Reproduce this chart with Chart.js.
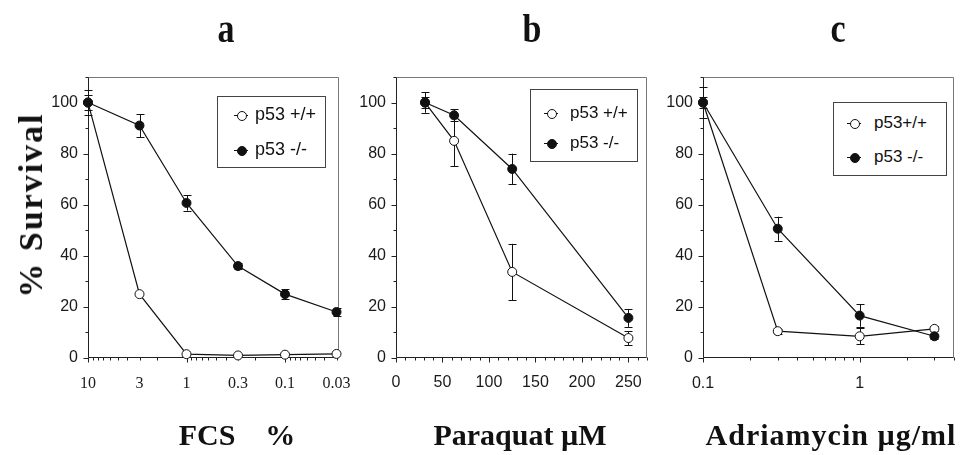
<!DOCTYPE html>
<html><head><meta charset="utf-8">
<script src="https://cdn.jsdelivr.net/npm/chart.js@4.4.1/dist/chart.umd.min.js"></script>
<style>
html,body{margin:0;padding:0;background:#fff;}
#wrap{position:relative;width:963px;height:455px;overflow:hidden;background:#fff;}
canvas.pane{position:absolute;left:0;top:0;}
.t{position:absolute;font-family:"Liberation Serif","Times New Roman",serif;font-weight:bold;color:#111;white-space:pre;line-height:1;}
.lg{position:absolute;border:1px solid #444;background:#fff;box-sizing:border-box;}
.row{position:absolute;left:0;font-family:"Liberation Sans",Arial,sans-serif;color:#111;line-height:1;white-space:pre;}
.ln{position:absolute;height:1px;background:#111;width:14px;}
.dot{position:absolute;width:8px;height:8px;border:1px solid #111;border-radius:50%;box-sizing:content-box;}
</style>
</head><body>
<div id="wrap">
<canvas id="ca" class="pane" width="963" height="455"></canvas>
<canvas id="cb" class="pane" width="963" height="455"></canvas>
<canvas id="cc" class="pane" width="963" height="455"></canvas>
</div>
<script>
// ---------- data ----------
const panelTitles = ['a', 'b', 'c'];
const xTitles = ['FCS    %', 'Paraquat \u00b5M', 'Adriamycin \u00b5g/ml'];
const yTitle = '% Survival';
const seriesNames = ['p53 +/+', 'p53 -/-'];
const seriesNamesC = ['p53+/+', 'p53 -/-'];
const yTicks = [0, 20, 40, 60, 80, 100];
const yMinorTicks = [10, 30, 50, 70, 90, 110];

// panel a: FCS %
const fcsDose = [10, 3, 1, 0.3, 0.1, 0.03];
const fcsWT = [100, 25, 1.5, 1, 1.3, 1.6];
const fcsWTErr = [5, 0, 0, 0, 0, 0];
const fcsKO = [100, 91, 60.7, 36, 25, 18];
const fcsKOErr = [3, 4.5, 3, 1.2, 2, 1.5];
const fcsTicks = [10, 3, 1, 0.3, 0.1, 0.03];
const fcsTickLabels = ['10', '3', '1', '0.3', '0.1', '0.03'];

// panel b: Paraquat uM
const pqDose = [31.25, 62.5, 125, 250];
const pqWT = [100, 85, 33.7, 7.8];
const pqWTErr = [4, 10, 11, 2.7];
const pqKO = [100, 95, 74, 15.7];
const pqKOErr = [2, 2.3, 6, 3.5];
const pqTicks = [0, 50, 100, 150, 200, 250];
const pqTickLabels = ['0', '50', '100', '150', '200', '250'];

// panel c: Adriamycin ug/ml
const adrDose = [0.1, 0.3, 1, 3];
const adrWT = [100, 10.5, 8.5, 11.4];
const adrWTErr = [6, 1, 3.2, 1];
const adrKO = [100, 50.6, 16.6, 8.5];
const adrKOErr = [2, 4.7, 4.4, 1];
const adrTicks = [0.1, 1];
const adrTickLabels = ['0.1', '1'];

// ---------- helpers ----------
function logMinor(lo, hi) {
  const out = [];
  for (let e = -3; e <= 2; e++) {
    for (let m = 1; m <= 9; m++) {
      const v = +(m * Math.pow(10, e)).toPrecision(6);
      if (v >= lo * 0.999 && v <= hi * 1.001) out.push({v, major: m === 1});
    }
  }
  return out;
}
function linMinor(lo, hi, step, majorStep) {
  const out = [];
  for (let v = lo; v <= hi + 1e-9; v += step) out.push({v, major: Math.abs(v / majorStep - Math.round(v / majorStep)) < 1e-6});
  return out;
}

const framePlugin = {
  id: 'frame',
  beforeDatasetsDraw(chart, args, opts) {
    const {ctx, chartArea, scales} = chart;
    const L = Math.round(chartArea.left) + 0.5, R = Math.round(chartArea.right) - 0.5;
    const T = Math.round(chartArea.top) + 0.5, B = Math.round(chartArea.bottom) - 0.5;
    ctx.save();
    ctx.lineWidth = 1;
    ctx.strokeStyle = '#777';
    ctx.beginPath();
    ctx.moveTo(L, T); ctx.lineTo(R, T); ctx.lineTo(R, B);
    ctx.stroke();
    ctx.strokeStyle = '#222';
    ctx.beginPath();
    ctx.moveTo(L, T); ctx.lineTo(L, B); ctx.lineTo(R, B);
    ctx.stroke();
    ctx.beginPath();
    yTicks.forEach(v => { const p = Math.round(scales.y.getPixelForValue(v)) + 0.5; ctx.moveTo(L, p); ctx.lineTo(L - 5, p); });
    yMinorTicks.forEach(v => { const p = Math.round(scales.y.getPixelForValue(v)) + 0.5; ctx.moveTo(L, p); ctx.lineTo(L - 3, p); });
    opts.xMarks.forEach(t => { const p = Math.round(scales.x.getPixelForValue(t.v)) + 0.5; ctx.moveTo(p, B); ctx.lineTo(p, B + (t.major ? 5 : 3)); });
    ctx.stroke();
    ctx.strokeStyle = '#111';
    ctx.beginPath();
    chart.data.datasets.forEach(ds => {
      ds.data.forEach((pt, i) => {
        const e = ds.errors[i];
        if (!e) return;
        const px = Math.round(scales.x.getPixelForValue(pt.x)) + 0.5;
        const y1 = scales.y.getPixelForValue(pt.y + e), y2 = scales.y.getPixelForValue(pt.y - e);
        ctx.moveTo(px, y1); ctx.lineTo(px, y2);
        ctx.moveTo(px - 4, Math.round(y1) + 0.5); ctx.lineTo(px + 4, Math.round(y1) + 0.5);
        ctx.moveTo(px - 4, Math.round(y2) + 0.5); ctx.lineTo(px + 4, Math.round(y2) + 0.5);
      });
    });
    ctx.stroke();
    ctx.restore();
  }
};

function ds(xs, ys, errs, filled, order, label) {
  return {
    label,
    data: xs.map((x, i) => ({x, y: ys[i]})),
    errors: errs,
    order,
    borderColor: '#111', borderWidth: 1.2,
    pointRadius: 4.5, pointBorderWidth: 1,
    pointBorderColor: '#111',
    pointBackgroundColor: filled ? '#111' : '#fff',
    fill: false, tension: 0, clip: false
  };
}

function makeChart(id, c) {
  return new Chart(document.getElementById(id), {
    type: 'line',
    data: {datasets: [
      ds(c.xs, c.ko, c.koErr, true, 0, seriesNames[1]),
      ds(c.xs, c.wt, c.wtErr, false, 1, seriesNames[0])
    ]},
    options: {
      responsive: false, animation: false, devicePixelRatio: 1,
      layout: {padding: {left: c.padL, right: c.padR, top: 77, bottom: 55}},
      plugins: {legend: {display: false}, tooltip: {enabled: false}, frame: {xMarks: c.xMarks}},
      scales: {
        x: {
          type: c.xType, reverse: !!c.reverse, min: c.xMin, max: c.xMax,
          afterBuildTicks: s => { s.ticks = c.xTicks.map(v => ({value: v})); },
          ticks: {autoSkip: false, maxRotation: 0, padding: c.xPad, color: '#1a1a1a',
            font: c.xFont, callback: (v, i) => c.xLabels[i]},
          grid: {display: false, drawTicks: false}, border: {display: false},
          afterFit: s => { s.height = 42; }
        },
        y: {
          type: 'linear', min: 0, max: 110,
          afterBuildTicks: s => { s.ticks = yTicks.map(v => ({value: v})); },
          ticks: {padding: 10, color: '#1a1a1a', font: {family: '"Liberation Sans", Arial, sans-serif', size: 16}},
          grid: {display: false, drawTicks: false}, border: {display: false},
          afterFit: s => { s.width = 58; }
        }
      }
    },
    plugins: [framePlugin]
  });
}

const sansTick = {family: '"Liberation Sans", Arial, sans-serif', size: 16};
makeChart('ca', {xs: fcsDose, wt: fcsWT, wtErr: fcsWTErr, ko: fcsKO, koErr: fcsKOErr,
  xType: 'logarithmic', reverse: true, xMin: 0.0283, xMax: 10, xTicks: fcsTicks, xLabels: fcsTickLabels,
  xFont: {family: '"Liberation Serif", "Times New Roman", serif', size: 16}, xPad: 16,
  xMarks: logMinor(0.0283, 10), padL: 30, padR: 963 - 339});
makeChart('cb', {xs: pqDose, wt: pqWT, wtErr: pqWTErr, ko: pqKO, koErr: pqKOErr,
  xType: 'linear', xMin: 0, xMax: 270, xTicks: pqTicks, xLabels: pqTickLabels,
  xFont: sansTick, xPad: 15, xMarks: linMinor(0, 270, 10, 50), padL: 396 - 58, padR: 963 - 647});
makeChart('cc', {xs: adrDose, wt: adrWT, wtErr: adrWTErr, ko: adrKO, koErr: adrKOErr,
  xType: 'logarithmic', xMin: 0.1, xMax: 4, xTicks: adrTicks, xLabels: adrTickLabels,
  xFont: sansTick, xPad: 16, xMarks: logMinor(0.1, 4), padL: 703 - 58, padR: 963 - 954});

// ---------- text ----------
const wrap = document.getElementById('wrap');
function addText(txt, cls, style) {
  const d = document.createElement('div');
  d.className = cls; d.textContent = txt;
  Object.assign(d.style, style);
  wrap.appendChild(d);
  return d;
}
const titleX = [226, 532, 838];
panelTitles.forEach((t, i) => addText(t, 't', {left: titleX[i] + 'px', top: '9px', fontSize: '40px', transform: 'translateX(-50%) scaleX(0.85)'}));
const xTitleX = [237, 520, 831];
const xTitleSpacing = ['0px', '0px', '1px'];
xTitles.forEach((t, i) => addText(t, 't', {left: xTitleX[i] + 'px', top: '420px', fontSize: '30px', letterSpacing: xTitleSpacing[i], transform: 'translateX(-50%)'}));
addText(yTitle, 't', {left: '31px', top: '205px', fontSize: '34px', letterSpacing: '2px', transform: 'translate(-50%,-50%) rotate(-90deg)'});

function legend(box, rows, names, fontSize) {
  const d = document.createElement('div');
  d.className = 'lg';
  Object.assign(d.style, {left: box[0] + 'px', top: box[1] + 'px', width: box[2] + 'px', height: box[3] + 'px'});
  rows.forEach((ry, i) => {
    const ln = document.createElement('div'); ln.className = 'ln';
    Object.assign(ln.style, {left: (box[4] - 7) + 'px', top: ry + 'px'});
    const dot = document.createElement('div'); dot.className = 'dot';
    Object.assign(dot.style, {left: (box[4] - 4.5) + 'px', top: (ry - 4.5) + 'px', background: i === 0 ? '#fff' : '#111'});
    const tx = document.createElement('div'); tx.className = 'row';
    tx.textContent = names[i];
    Object.assign(tx.style, {left: box[5] + 'px', top: (ry - fontSize * 0.55) + 'px', fontSize: fontSize + 'px'});
    d.appendChild(ln); d.appendChild(dot); d.appendChild(tx);
  });
  wrap.appendChild(d);
}
legend([217, 96, 109, 72, 23, 37], [18, 53], seriesNames, 18);
legend([530, 89, 108, 73, 20, 39], [23, 53], seriesNames, 17);
legend([833, 102, 114, 74, 20, 40], [20, 54], seriesNamesC, 17);
</script>
</body></html>
